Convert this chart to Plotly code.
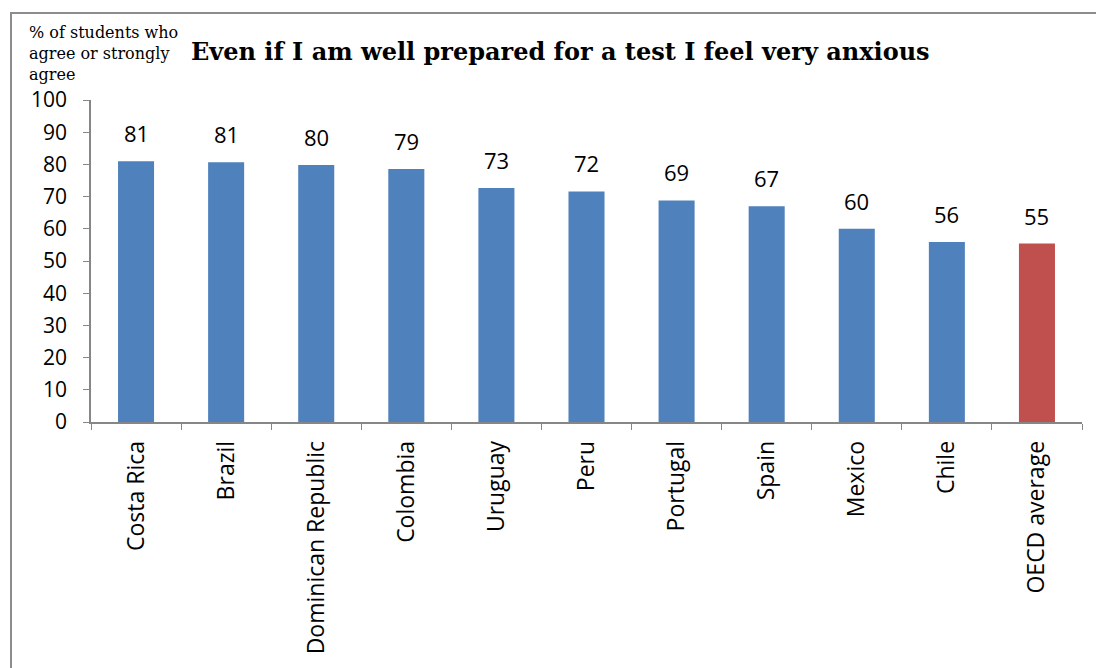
import plotly.graph_objects as go

# Share of students who agree or strongly agree (%)
countries = ["Costa Rica", "Brazil", "Dominican Republic", "Colombia", "Uruguay",
             "Peru", "Portugal", "Spain", "Mexico", "Chile", "OECD average"]
values = [81.0, 80.7, 79.8, 78.6, 72.7, 71.6, 68.8, 67.0, 60.0, 55.9, 55.4]
y_ticks = [0, 10, 20, 30, 40, 50, 60, 70, 80, 90, 100]
y_title_lines = ["% of students who", "agree or strongly", "agree"]

BLUE = "#4F81BD"
RED = "#C0504D"
bar_colors = [RED if c == "OECD average" else BLUE for c in countries]

W, H = 1096, 668
L, R, T, B = 91, 14, 100, 246
sans = "Open Sans"
serif = "DejaVu Serif"

fig = go.Figure()
fig.add_trace(go.Bar(
    x=countries, y=values,
    marker=dict(color=bar_colors, line=dict(width=0)),
    hoverinfo="x+y",
))

# value labels above each bar
for c, v in zip(countries, values):
    fig.add_annotation(
        x=c, y=v, xref="x", yref="y",
        text=f"{v:.0f}", showarrow=False,
        yanchor="middle", yshift=28,
        font=dict(family=sans, size=22, color="black"),
    )

pw = W - L - R
ph = H - T - B
def px_x(p):
    return (p - L) / pw
def px_y(p):
    return 1 - (p - T) / ph

# chart title
fig.add_annotation(
    xref="paper", yref="paper", x=px_x(560), y=px_y(51),
    text="<b>Even if I am well prepared for a test I feel very anxious</b>",
    showarrow=False, xanchor="center", yanchor="middle",
    font=dict(family=serif, size=24, color="black"),
)
# y-axis title, one line at a time
for i, line in enumerate(y_title_lines):
    fig.add_annotation(
        xref="paper", yref="paper", x=px_x(27), y=px_y(32 + 21.5 * i),
        text=line, showarrow=False, xanchor="left", yanchor="middle",
        font=dict(family=serif, size=16, color="black"),
    )

# outer frame
fig.add_shape(
    type="rect", xref="paper", yref="paper",
    x0=px_x(11), y0=px_y(H + 20), x1=px_x(W + 20), y1=px_y(13),
    line=dict(color="#8c8c8c", width=2), fillcolor="rgba(0,0,0,0)",
    layer="below",
)

fig.update_layout(
    width=W, height=H,
    margin=dict(l=L, r=R, t=T, b=B, autoexpand=False),
    paper_bgcolor="white", plot_bgcolor="white",
    bargap=0.6, showlegend=False,
    font=dict(family=sans, color="black"),
)
fig.update_xaxes(
    type="category", tickangle=-90, tickson="boundaries",
    ticks="outside", ticklen=6, tickcolor="#868686",
    showline=True, linecolor="#868686", linewidth=1.5,
    showgrid=False, tickfont=dict(family=sans, size=23, color="black"),
    ticklabelstandoff=8,
)
fig.update_yaxes(
    range=[0, 100], tickvals=y_ticks,
    ticks="outside", ticklen=6, tickcolor="#868686",
    showline=True, linecolor="#868686", linewidth=1.5,
    showgrid=False, zeroline=False,
    tickfont=dict(family=sans, size=21, color="black"),
    ticklabelstandoff=12,
)

fig.write_html("out.html")
